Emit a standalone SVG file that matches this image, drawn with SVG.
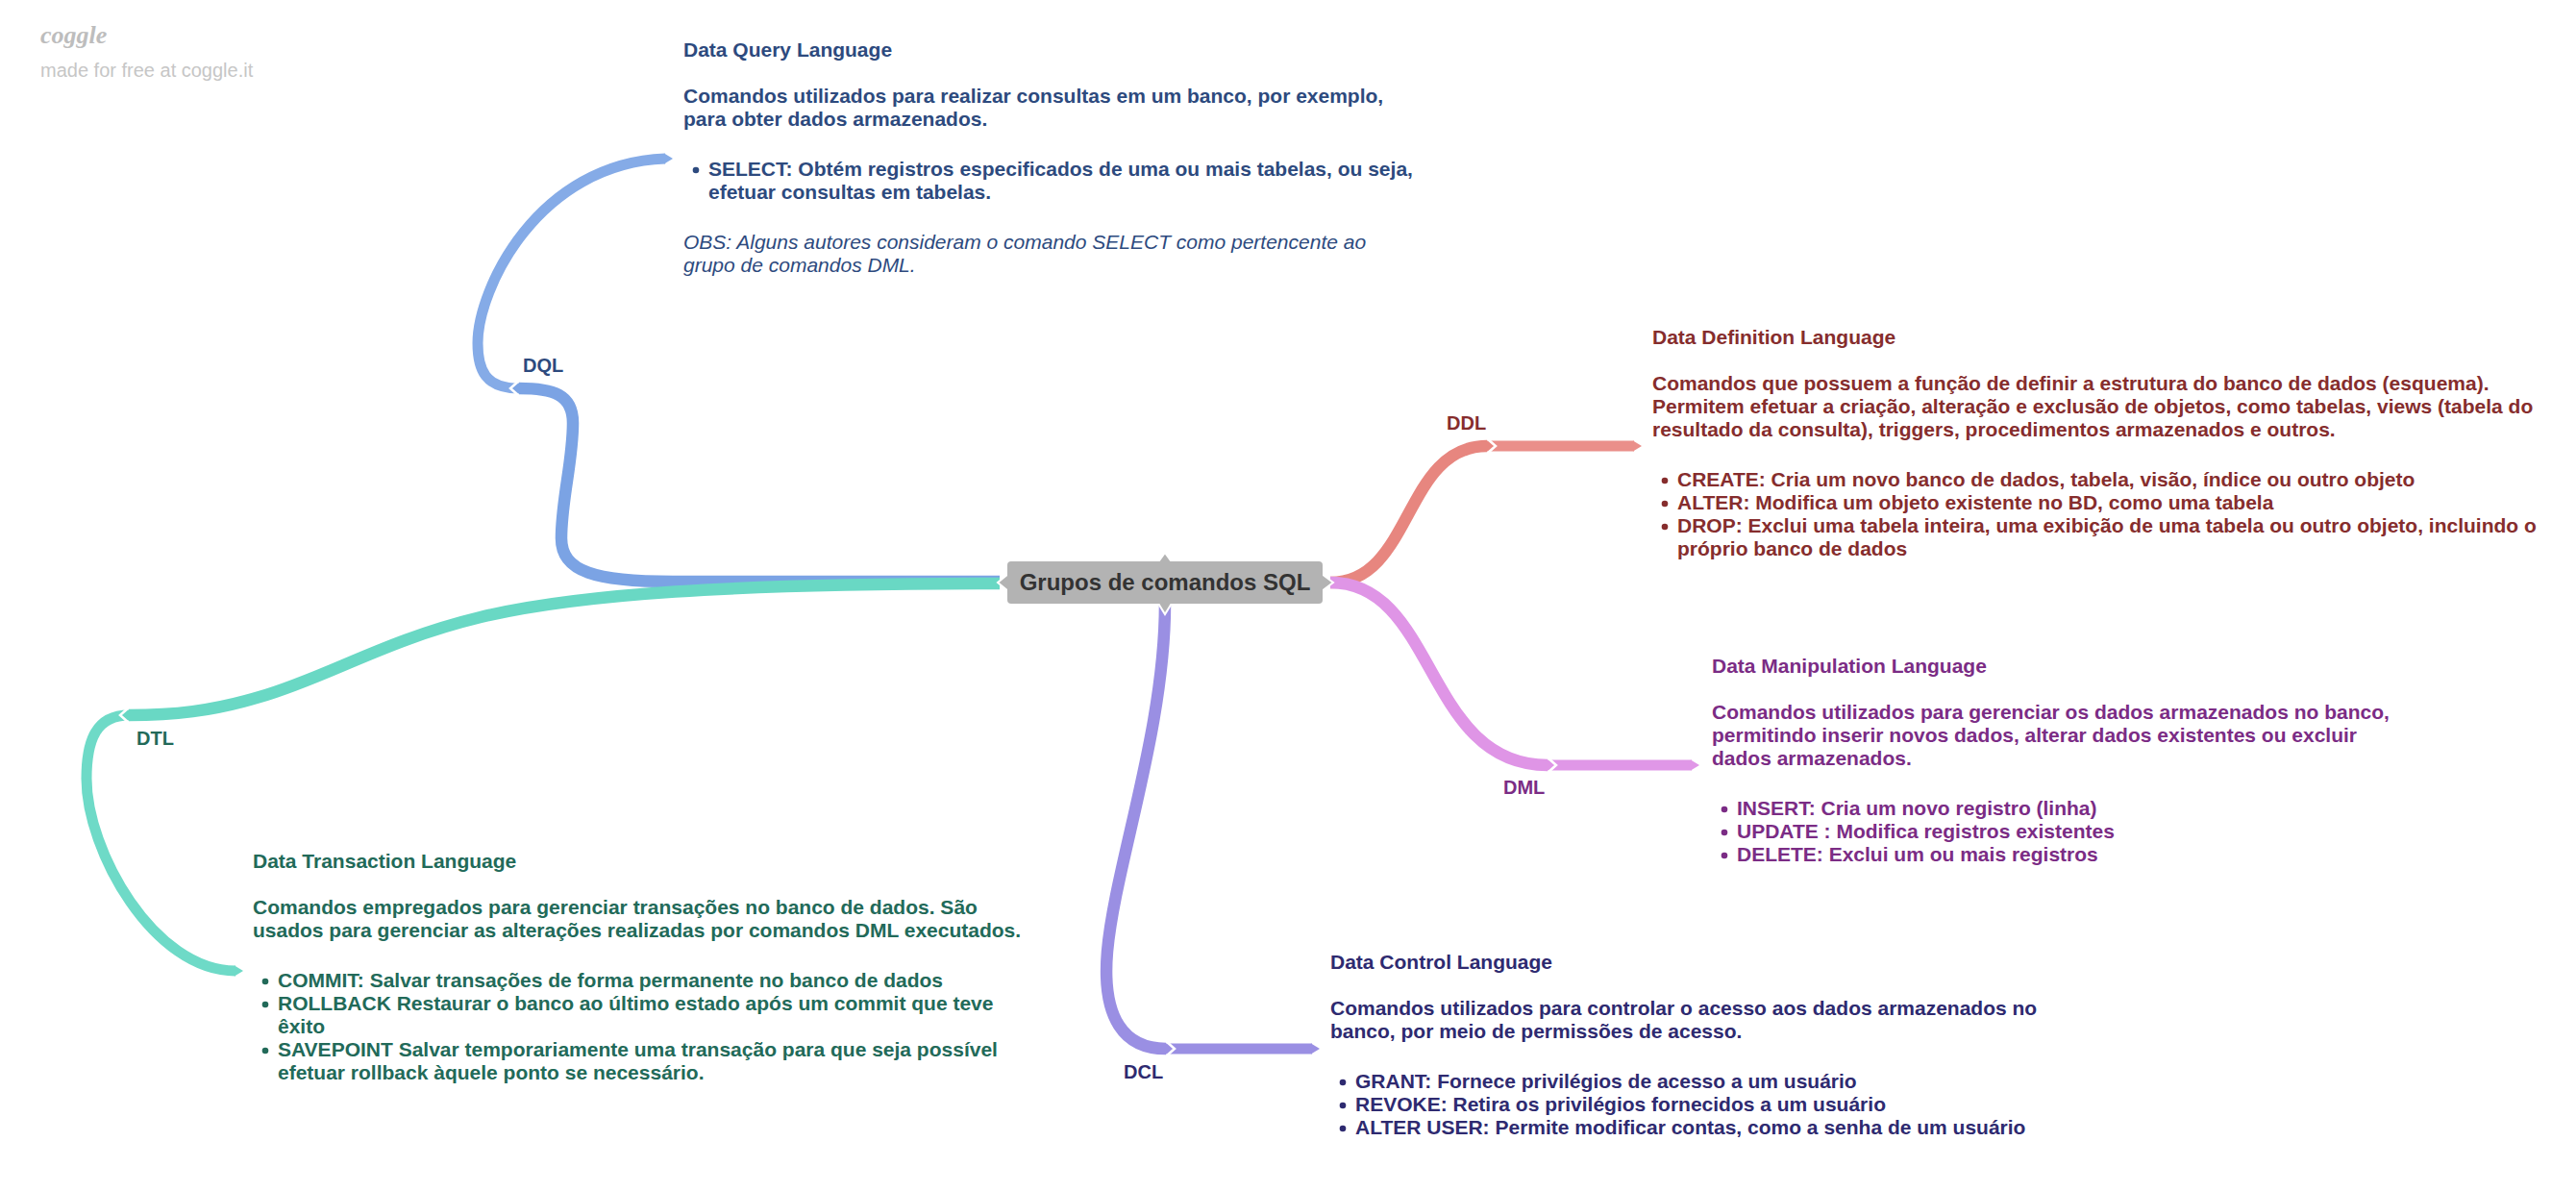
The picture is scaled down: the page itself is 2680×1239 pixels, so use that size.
<svg xmlns="http://www.w3.org/2000/svg" width="2680" height="1239" viewBox="0 0 2680 1239">
<style>
text{font-family:"Liberation Sans",Arial,sans-serif;font-size:21px;font-weight:bold}
.wm{font-weight:normal;fill:#c6c6c6;font-size:20px}
.logo{font-family:"Liberation Serif",serif;font-style:italic;font-weight:bold;font-size:26px;fill:#bdbdbd}
.lbl{font-size:20px}
.l1{fill:none;stroke-width:12.5;stroke-linecap:butt}
.l2{fill:none;stroke-width:11;stroke-linecap:butt}
.chev{fill:none;stroke:#fff;stroke-width:2.5}
.ddl{fill:#862d2d}.dml{fill:#7b2c85}.dcl{fill:#2e2a70}.dtl{fill:#226a59}.dql{fill:#2d4a7e}
.it{font-style:italic;font-weight:normal}
.root{font-size:24px;fill:#333}
</style>
<rect width="2680" height="1239" fill="#fff"/>
<g id="watermark">
<text class="logo" x="42" y="45">coggle</text>
<text class="wm" x="42" y="80">made for free at coggle.it</text>
</g>
<g id="connectors">
<!-- DQL -->
<path class="l1" stroke="#7ba3e4" d="M1040,605 L700,605 C620,605 584,595 584,560 C584,520 596,480 596,440 C596,410 575,404 540,404"/>
<path class="l2" stroke="#85abe7" d="M540,404 C505,404 497,385 497,357 C497,300 560,170 692,165"/>
<polygon points="691,159.5 700,165 691,170.5" fill="#85abe7"/>
<g transform="translate(540,404) scale(-1,1)"><polygon points="-1,-6.3 7,0 -1,6.3" fill="#7ba3e4"/><polyline class="chev" points="0.5,-7.5 9,0 0.5,7.5"/></g>
<!-- DTL -->
<path class="l1" stroke="#69d8c4" d="M1040,607 C760,607 600,618 500,642 C400,666 340,705 270,725 C220,740 180,744 134,744"/>
<path class="l2" stroke="#6edac7" d="M134,744 C100,744 90,770 90,810 C90,885 160,1010 245,1010"/>
<polygon points="244,1004.5 253,1010 244,1015.5" fill="#6edac7"/>
<g transform="translate(134,744) scale(-1,1)"><polygon points="-1,-6.3 7,0 -1,6.3" fill="#69d8c4"/><polyline class="chev" points="0.5,-7.5 9,0 0.5,7.5"/></g>
<!-- DDL -->
<path class="l1" stroke="#e7867f" d="M1384,606 C1470,606 1460,464 1547,464"/>
<path class="l2" stroke="#ea8f8a" d="M1547,464 L1700,464"/>
<polygon points="1699,458.5 1708,464 1699,469.5" fill="#ea8f8a"/>
<g transform="translate(1547,464)"><polygon points="-1,-6.3 7,0 -1,6.3" fill="#e7867f"/><polyline class="chev" points="0.5,-7.5 9,0 0.5,7.5"/></g>
<!-- DML -->
<path class="l1" stroke="#df95e6" d="M1384,606 C1495,606 1482,796 1610,796"/>
<path class="l2" stroke="#e097e7" d="M1610,796 L1760,796"/>
<polygon points="1759,790.5 1768,796 1759,801.5" fill="#e097e7"/>
<g transform="translate(1610,796)"><polygon points="-1,-6.3 7,0 -1,6.3" fill="#df95e6"/><polyline class="chev" points="0.5,-7.5 9,0 0.5,7.5"/></g>
<!-- DCL -->
<path class="l1" stroke="#9a8fe3" d="M1212,628 C1212,760 1160,900 1152,990 C1146,1060 1170,1091 1213,1091"/>
<path class="l2" stroke="#9a8fe3" d="M1213,1091 L1365,1091"/>
<polygon points="1364,1085.5 1373,1091 1364,1096.5" fill="#9a8fe3"/>
<g transform="translate(1213,1091)"><polygon points="-1,-6.3 7,0 -1,6.3" fill="#9a8fe3"/><polyline class="chev" points="0.5,-7.5 9,0 0.5,7.5"/></g>
</g>
<g id="labels">
<text class="dql lbl" x="544" y="387">DQL</text>
<text class="dtl lbl" x="142" y="775">DTL</text>
<text class="ddl lbl" x="1505" y="447">DDL</text>
<text class="dml lbl" x="1564" y="826">DML</text>
<text class="dcl lbl" x="1169" y="1122">DCL</text>
</g>
<g id="root">
<polygon points="1049,597 1038,606 1049,615" fill="#b3b3b3" stroke="#fff" stroke-width="2"/>
<polygon points="1375,597 1387,606 1375,615" fill="#b3b3b3" stroke="#fff" stroke-width="2"/>
<polygon points="1204,586 1212,575 1220,586" fill="#b3b3b3" stroke="#fff" stroke-width="2"/>
<polygon points="1204,626 1212,639 1220,626" fill="#b3b3b3" stroke="#fff" stroke-width="2"/>
<rect x="1048" y="584" width="328" height="44" rx="4" fill="#b3b3b3"/>
<text class="root" x="1212" y="614" text-anchor="middle">Grupos de comandos SQL</text>
</g>
<g id="dql-node" class="dql">
<text x="711" y="59">Data Query Language</text>
<text x="711" y="107">Comandos utilizados para realizar consultas em um banco, por exemplo,</text>
<text x="711" y="131">para obter dados armazenados.</text>
<circle cx="724" cy="177" r="3.3"/>
<text x="737" y="183">SELECT: Obtém registros especificados de uma ou mais tabelas, ou seja,</text>
<text x="737" y="207">efetuar consultas em tabelas.</text>
<text class="it" x="711" y="259">OBS: Alguns autores consideram o comando SELECT como pertencente ao</text>
<text class="it" x="711" y="283">grupo de comandos DML.</text>
</g>
<g id="ddl-node" class="ddl">
<text x="1719" y="358">Data Definition Language</text>
<text x="1719" y="406">Comandos que possuem a função de definir a estrutura do banco de dados (esquema).</text>
<text x="1719" y="430">Permitem efetuar a criação, alteração e exclusão de objetos, como tabelas, views (tabela do</text>
<text x="1719" y="454">resultado da consulta), triggers, procedimentos armazenados e outros.</text>
<circle cx="1732" cy="500" r="3.3"/>
<text x="1745" y="506">CREATE: Cria um novo banco de dados, tabela, visão, índice ou outro objeto</text>
<circle cx="1732" cy="524" r="3.3"/>
<text x="1745" y="530">ALTER: Modifica um objeto existente no BD, como uma tabela</text>
<circle cx="1732" cy="548" r="3.3"/>
<text x="1745" y="554">DROP: Exclui uma tabela inteira, uma exibição de uma tabela ou outro objeto, incluindo o</text>
<text x="1745" y="578">próprio banco de dados</text>
</g>
<g id="dml-node" class="dml">
<text x="1781" y="700">Data Manipulation Language</text>
<text x="1781" y="748">Comandos utilizados para gerenciar os dados armazenados no banco,</text>
<text x="1781" y="772">permitindo inserir novos dados, alterar dados existentes ou excluir</text>
<text x="1781" y="796">dados armazenados.</text>
<circle cx="1794" cy="842" r="3.3"/>
<text x="1807" y="848">INSERT: Cria um novo registro (linha)</text>
<circle cx="1794" cy="866" r="3.3"/>
<text x="1807" y="872">UPDATE : Modifica registros existentes</text>
<circle cx="1794" cy="890" r="3.3"/>
<text x="1807" y="896">DELETE: Exclui um ou mais registros</text>
</g>
<g id="dcl-node" class="dcl">
<text x="1384" y="1008">Data Control Language</text>
<text x="1384" y="1056">Comandos utilizados para controlar o acesso aos dados armazenados no</text>
<text x="1384" y="1080">banco, por meio de permissões de acesso.</text>
<circle cx="1397" cy="1126" r="3.3"/>
<text x="1410" y="1132">GRANT: Fornece privilégios de acesso a um usuário</text>
<circle cx="1397" cy="1150" r="3.3"/>
<text x="1410" y="1156">REVOKE: Retira os privilégios fornecidos a um usuário</text>
<circle cx="1397" cy="1174" r="3.3"/>
<text x="1410" y="1180">ALTER USER: Permite modificar contas, como a senha de um usuário</text>
</g>
<g id="dtl-node" class="dtl">
<text x="263" y="903">Data Transaction Language</text>
<text x="263" y="951">Comandos empregados para gerenciar transações no banco de dados. São</text>
<text x="263" y="975">usados para gerenciar as alterações realizadas por comandos DML executados.</text>
<circle cx="276" cy="1021" r="3.3"/>
<text x="289" y="1027">COMMIT: Salvar transações de forma permanente no banco de dados</text>
<circle cx="276" cy="1045" r="3.3"/>
<text x="289" y="1051">ROLLBACK Restaurar o banco ao último estado após um commit que teve</text>
<text x="289" y="1075">êxito</text>
<circle cx="276" cy="1093" r="3.3"/>
<text x="289" y="1099">SAVEPOINT Salvar temporariamente uma transação para que seja possível</text>
<text x="289" y="1123">efetuar rollback àquele ponto se necessário.</text>
</g>
</svg>
